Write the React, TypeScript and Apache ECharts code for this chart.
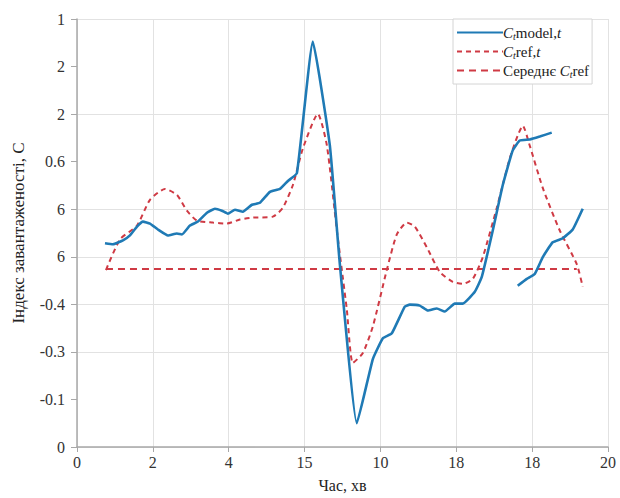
import React, { useEffect, useRef } from "react";
import * as echarts from "echarts";

// Tick labels as printed on the reference (positions are grid indices)
const xTickLabels = ["0", "2", "4", "15", "10", "18", "18", "20"];
const yTickLabels = ["0", "-0.1", "-0.3", "-0.4", "6", "6", "0.6", "2", "2", "1"];

// Cₜmodel,ₜ (two pieces), in axis units
const modelA: [number, number][] = [
  [0.369, 4.283], [0.474, 4.262], [0.606, 4.345], [0.698, 4.449], [0.791, 4.636],
  [0.870, 4.740], [0.962, 4.699], [1.067, 4.574], [1.199, 4.449], [1.318, 4.491],
  [1.383, 4.470], [1.489, 4.657], [1.594, 4.740], [1.713, 4.927], [1.818, 5.010],
  [1.910, 4.969], [1.989, 4.906], [2.082, 4.990], [2.187, 4.948], [2.306, 5.094],
  [2.411, 5.135], [2.543, 5.364], [2.675, 5.426], [2.780, 5.593], [2.899, 5.759],
  [3.109, 8.524], [3.333, 6.341], [3.465, 3.846], [3.689, 0.499], [3.900, 1.850],
  [4.032, 2.287], [4.150, 2.391], [4.321, 2.952], [4.387, 2.994], [4.519, 2.973],
  [4.625, 2.869], [4.743, 2.911], [4.848, 2.848], [4.980, 3.015], [5.086, 3.015],
  [5.244, 3.264], [5.336, 3.576], [5.481, 4.553], [5.613, 5.509], [5.744, 6.237],
  [5.837, 6.445], [5.968, 6.466], [6.100, 6.528], [6.258, 6.611],
];
const modelB: [number, number][] = [
  [5.810, 3.389], [5.929, 3.534], [6.034, 3.638], [6.140, 3.992], [6.271, 4.304],
  [6.403, 4.387], [6.535, 4.574], [6.667, 5.010],
];
// Cₜref,ₜ
const refT: [number, number][] = [
  [0.382, 3.721], [0.567, 4.366], [0.791, 4.657], [0.962, 5.198], [1.159, 5.426],
  [1.318, 5.301], [1.449, 4.969], [1.581, 4.761], [1.792, 4.719], [1.976, 4.699],
  [2.148, 4.782], [2.319, 4.823], [2.582, 4.844], [2.714, 5.031], [2.846, 5.509],
  [2.978, 6.279], [3.175, 7.006], [3.294, 6.341], [3.426, 4.553], [3.557, 2.890],
  [3.636, 1.767], [3.768, 1.975], [3.900, 2.536], [4.084, 3.721], [4.216, 4.470],
  [4.348, 4.719], [4.453, 4.636], [4.611, 4.200], [4.783, 3.680], [4.954, 3.472],
  [5.086, 3.430], [5.217, 3.534], [5.349, 3.992], [5.534, 5.031], [5.705, 6.071],
  [5.810, 6.549], [5.876, 6.757], [5.968, 6.341], [6.140, 5.447], [6.364, 4.553],
  [6.588, 3.846], [6.667, 3.368],
];
// Середнє Cₜref
const meanRef: [number, number][] = [
  [0.382, 3.742], [6.588, 3.742],
];

const names = ["Ctmodel,t", "Ctref,t", "Середнє Ctref"];
const richNames: Record<string, string> = {
  "Ctmodel,t": "{i|C}{s|t}model,{i|t}",
  "Ctref,t": "{i|C}{s|t}ref,{i|t}",
  "Середнє Ctref": "Середнє {i|C}{s|t}ref",
};

const FONT = "Liberation Serif";
const BLUE = "#1f7ab5";
const RED = "#cf3a44";
const GRID = "#e2e2e2";

export default function App() {
  const ref = useRef<HTMLDivElement>(null);
  useEffect(() => {
    if (!ref.current) return;
    const chart = echarts.init(ref.current, undefined, { renderer: "svg" });
    const ySplitColors = yTickLabels.map((_, i) =>
      i === 1 || i === 6 || i === 8 ? "rgba(0,0,0,0)" : GRID
    );
    const lbl = (fs: number) => ({
      fontFamily: FONT,
      fontSize: fs,
      color: "#333",
    });
    chart.setOption({
      animation: false,
      backgroundColor: "#fff",
      textStyle: { fontFamily: FONT },
      grid: { left: 77, right: 12, top: 19, bottom: 46 },
      legend: {
        orient: "vertical",
        left: 453,
        top: 19,
        width: 155,
        padding: [6, 3, 5, 3],
        backgroundColor: "#fff",
        borderColor: "#d4d4d4",
        borderWidth: 1,
        borderRadius: 0,
        itemWidth: 46,
        itemHeight: 12,
        itemGap: 3,
        itemStyle: { opacity: 0 },
        data: names,
        formatter: (n: string) => richNames[n] ?? n,
        textStyle: {
          fontFamily: FONT,
          fontSize: 15,
          color: "#222",
          padding: [0, 0, 0, -5],
          rich: {
            i: { fontFamily: FONT, fontSize: 15, fontStyle: "italic", color: "#222" },
            s: { fontFamily: FONT, fontSize: 10, fontStyle: "italic", color: "#222", padding: [7, 0, 0, 0] },
          },
        },
      },
      xAxis: {
        type: "value",
        min: 0,
        max: 7,
        interval: 1,
        name: "Час, хв",
        nameLocation: "middle",
        nameGap: 30,
        nameTextStyle: { ...lbl(16), color: "#222" },
        axisLine: { lineStyle: { color: "#a8a8a8", width: 1.5 } },
        axisTick: { show: true, length: 5, lineStyle: { color: "#a8a8a8" } },
        axisLabel: {
          ...lbl(16),
          margin: 7,
          formatter: (v: number) => xTickLabels[Math.round(v)] ?? "",
        },
        splitLine: { show: true, lineStyle: { color: GRID, width: 1 } },
      },
      yAxis: {
        type: "value",
        min: 0,
        max: 9,
        interval: 1,
        name: "Індекс завантаженості, С",
        nameLocation: "middle",
        nameGap: 50,
        nameTextStyle: { ...lbl(17), color: "#222" },
        axisLine: { show: true, lineStyle: { color: "#a8a8a8", width: 1.5 } },
        axisTick: { show: true, length: 6, lineStyle: { color: "#a8a8a8" } },
        axisLabel: {
          ...lbl(16),
          margin: 12,
          formatter: (v: number) => yTickLabels[Math.round(v)] ?? "",
        },
        splitLine: { show: true, lineStyle: { color: ySplitColors, width: 1 } },
      },
      series: [
        {
          name: names[0],
          type: "line",
          data: modelA,
          symbol: "none",
          smooth: 0.12,
          lineStyle: { color: BLUE, width: 2.6 },
          itemStyle: { color: BLUE },
          z: 3,
        },
        {
          name: names[0],
          type: "line",
          data: modelB,
          symbol: "none",
          smooth: 0.12,
          lineStyle: { color: BLUE, width: 2.6 },
          itemStyle: { color: BLUE },
          z: 3,
        },
        {
          name: names[1],
          type: "line",
          data: refT,
          symbol: "none",
          smooth: 0.2,
          lineStyle: { color: RED, width: 2, type: [5, 4] },
          itemStyle: { color: RED },
          z: 2,
        },
        {
          name: names[2],
          type: "line",
          data: meanRef,
          symbol: "none",
          lineStyle: { color: RED, width: 2, type: [7, 5] },
          itemStyle: { color: RED },
          z: 2,
        },
      ],
    });
    return () => chart.dispose();
  }, []);
  return <div ref={ref} style={{ width: 620, height: 498, position: "absolute", left: 0, top: 0 }} />;
}
